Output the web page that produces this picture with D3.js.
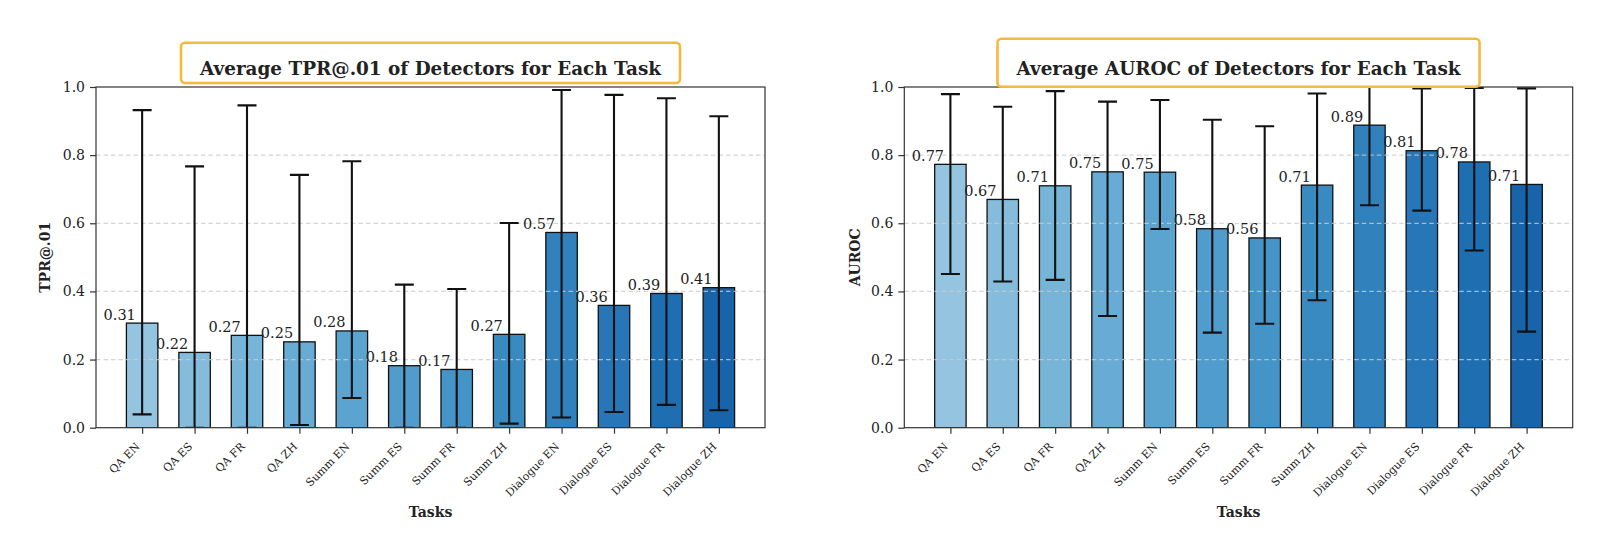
<!DOCTYPE html>
<html>
<head>
<meta charset="utf-8">
<script src="https://cdn.jsdelivr.net/npm/d3@7"></script>
<style>
  body { margin: 0; background: #fff; }
  text { font-family: "DejaVu Serif", serif; fill: #222; }
</style>
</head>
<body>
<script>
// tasks and values
var tasks = ["QA EN", "QA ES", "QA FR", "QA ZH", "Summ EN", "Summ ES", "Summ FR", "Summ ZH",
             "Dialogue EN", "Dialogue ES", "Dialogue FR", "Dialogue ZH"];

var tprMean = [0.307, 0.221, 0.271, 0.252, 0.284, 0.182, 0.171, 0.274, 0.573, 0.359, 0.394, 0.411];
var tprLow  = [0.039, 0.0, 0.0, 0.008, 0.087, 0.0, 0.0, 0.012, 0.030, 0.046, 0.067, 0.051];
var tprHigh = [0.932, 0.767, 0.946, 0.742, 0.782, 0.420, 0.407, 0.601, 0.991, 0.977, 0.967, 0.914];

var aurocMean = [0.773, 0.670, 0.710, 0.751, 0.750, 0.584, 0.557, 0.712, 0.888, 0.813, 0.780, 0.714];
var aurocLow  = [0.451, 0.429, 0.434, 0.328, 0.583, 0.279, 0.305, 0.374, 0.653, 0.637, 0.520, 0.282];
var aurocHigh = [0.979, 0.942, 0.988, 0.957, 0.962, 0.904, 0.885, 0.981, 1.12, 0.996, 0.997, 0.996];

var yTicks = [0.0, 0.2, 0.4, 0.6, 0.8, 1.0];

// matplotlib "Blues" stops, sampled 0.4 -> 0.8
var bluesStops = ["#f7fbff", "#deebf7", "#c6dbef", "#9ecae1", "#6baed6", "#4292c6", "#2171b5", "#08519c", "#08306b"];
var blues = d3.piecewise(d3.interpolateRgb, bluesStops);
var barColor = function(i){ return blues(0.4 + 0.4 * i / (tasks.length - 1)); };

var svg = d3.select("body").append("svg")
    .attr("width", 1600)
    .attr("height", 541);

var charts = [
  {id: "tpr", title: "Average TPR@.01 of Detectors for Each Task", ylabel: "TPR@.01",
   mean: tprMean, low: tprLow, high: tprHigh,
   left: 96, right: 765, top: 87, bottom: 427.7, ylabelX: 45, boxTop: 42.7, boxBottom: 83},
  {id: "auroc", title: "Average AUROC of Detectors for Each Task", ylabel: "AUROC",
   mean: aurocMean, low: aurocLow, high: aurocHigh,
   left: 904.3, right: 1572.7, top: 87, bottom: 427.7, ylabelX: 855, boxTop: 38.7, boxBottom: 86.7}
];

charts.forEach(function(c){
  var x = d3.scaleLinear().domain([-0.88, tasks.length - 1 + 0.88]).range([c.left, c.right]);
  var y = d3.scaleLinear().domain([0, 1]).range([c.bottom, c.top]);
  var bw = x(0.6) - x(0);

  var g = svg.append("g");

  g.append("clipPath").attr("id", "clip-" + c.id)
    .append("rect")
    .attr("x", c.left).attr("y", c.top)
    .attr("width", c.right - c.left).attr("height", c.bottom - c.top);

  var plot = g.append("g").attr("clip-path", "url(#clip-" + c.id + ")");

  // bars
  plot.selectAll("rect.bar")
    .data(c.mean)
    .enter()
    .append("rect")
    .attr("class", "bar")
    .attr("x", function(d, i){ return x(i) - bw / 2; })
    .attr("y", function(d){ return y(d); })
    .attr("width", bw)
    .attr("height", function(d){ return y(0) - y(d); })
    .attr("fill", function(d, i){ return barColor(i); })
    .attr("stroke", "#111")
    .attr("stroke-width", 1.3);

  // grid (sits above bars, below error bars like matplotlib)
  plot.selectAll("line.grid")
    .data(yTicks.filter(function(t){ return t > 0 && t < 1; }))
    .enter()
    .append("line")
    .attr("x1", c.left).attr("x2", c.right)
    .attr("y1", function(d){ return y(d); })
    .attr("y2", function(d){ return y(d); })
    .attr("stroke", "#cccccc")
    .attr("stroke-width", 1.3)
    .attr("stroke-dasharray", "4.5,3")
    .attr("opacity", 0.8);

  // error bars
  var err = plot.selectAll("g.err")
    .data(c.mean)
    .enter()
    .append("g")
    .attr("class", "err");

  err.append("line")
    .attr("x1", function(d, i){ return x(i); })
    .attr("x2", function(d, i){ return x(i); })
    .attr("y1", function(d, i){ return y(c.low[i]); })
    .attr("y2", function(d, i){ return y(c.high[i]); })
    .attr("stroke", "#111").attr("stroke-width", 2.1);

  [c.low, c.high].forEach(function(arr){
    err.append("line")
      .attr("x1", function(d, i){ return x(i) - 9.5; })
      .attr("x2", function(d, i){ return x(i) + 9.5; })
      .attr("y1", function(d, i){ return y(arr[i]); })
      .attr("y2", function(d, i){ return y(arr[i]); })
      .attr("stroke", "#111").attr("stroke-width", 2.1);
  });

  // value labels
  g.selectAll("text.val")
    .data(c.mean)
    .enter()
    .append("text")
    .attr("class", "val")
    .attr("x", function(d, i){ return x(i - 0.12); })
    .attr("y", function(d){ return y(d) - 3.5; })
    .attr("text-anchor", "end")
    .style("font-size", "14.5px")
    .text(function(d){ return d.toFixed(2); });

  // frame
  g.append("rect")
    .attr("x", c.left).attr("y", c.top)
    .attr("width", c.right - c.left).attr("height", c.bottom - c.top)
    .attr("fill", "none")
    .attr("stroke", "#333")
    .attr("stroke-width", 1.2);

  // axes
  var yAxis = d3.axisLeft(y).tickValues(yTicks).tickFormat(d3.format(".1f"))
    .tickSize(6).tickPadding(5);
  g.append("g")
    .attr("transform", "translate(" + c.left + ",0)")
    .call(yAxis)
    .call(function(a){
      a.select(".domain").remove();
      a.selectAll("line").attr("stroke", "#333").attr("stroke-width", 1.2);
      a.selectAll("text").style("font-size", "14px").attr("fill", "#222")
        .style("font-family", "DejaVu Serif, serif");
    });

  var xAxis = d3.axisBottom(x).tickValues(d3.range(tasks.length))
    .tickFormat(function(i){ return tasks[i]; }).tickSize(6).tickPadding(4);
  g.append("g")
    .attr("transform", "translate(0," + c.bottom + ")")
    .call(xAxis)
    .call(function(a){
      a.select(".domain").remove();
      a.selectAll("line").attr("stroke", "#333").attr("stroke-width", 1.2);
      a.selectAll("text")
        .style("font-size", "11px")
        .style("font-family", "DejaVu Serif, serif")
        .attr("fill", "#333")
        .attr("text-anchor", "end")
        .attr("dy", 0)
        .attr("y", 0).attr("x", 0)
        .attr("transform", "translate(-2,19.5) rotate(-45)");
    });

  // axis titles
  g.append("text")
    .attr("x", (c.left + c.right) / 2)
    .attr("y", 517)
    .attr("text-anchor", "middle")
    .style("font-size", "14px")
    .style("font-weight", "bold")
    .text("Tasks");

  g.append("text")
    .attr("transform", "translate(" + c.ylabelX + "," + (c.top + c.bottom) / 2 + ") rotate(-90)")
    .attr("text-anchor", "middle")
    .attr("dy", "0.35em")
    .style("font-size", "14px")
    .style("font-weight", "bold")
    .text(c.ylabel);

  // boxed title
  var cx = (c.left + c.right) / 2;
  var box = g.append("rect");
  var t = g.append("text")
    .attr("x", cx)
    .attr("y", 75)
    .attr("text-anchor", "middle")
    .style("font-size", "18.4px")
    .style("font-weight", "bold")
    .text(c.title);
  var tw = t.node().getComputedTextLength();
  box.attr("x", cx - tw / 2 - 19)
    .attr("y", c.boxTop)
    .attr("width", tw + 38)
    .attr("height", c.boxBottom - c.boxTop)
    .attr("rx", 4)
    .attr("fill", "#fff")
    .attr("stroke", "#f6b93b")
    .attr("stroke-width", 2.6);
});
</script>
</body>
</html>
